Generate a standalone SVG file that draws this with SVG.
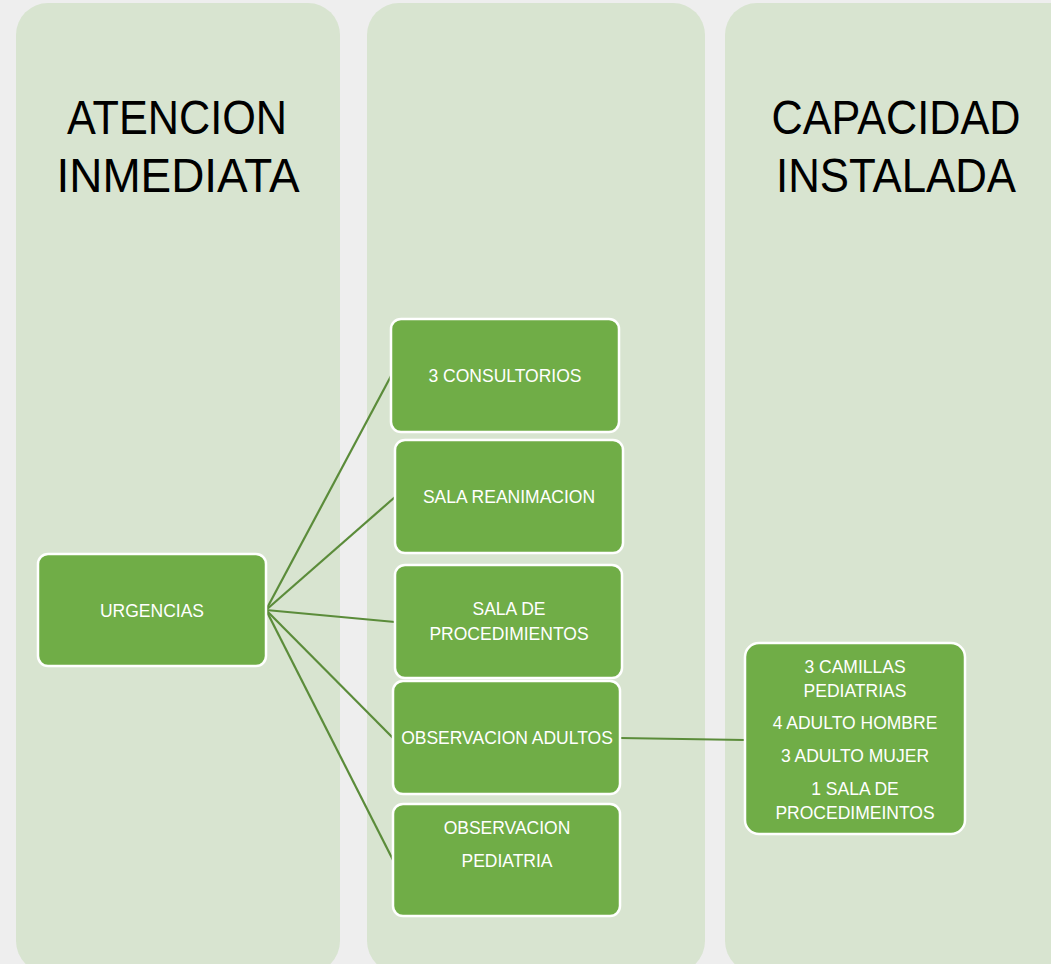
<svg xmlns="http://www.w3.org/2000/svg" width="1051" height="964" viewBox="0 0 1051 964">
<style>
.col{fill:#d8e4d0;}
.title{font-family:"Liberation Sans",Arial,sans-serif;font-size:48px;fill:#000;text-anchor:middle;}
.node rect{fill:#70ad47;stroke:#fff;stroke-width:2.5;}
.node text{font-family:"Liberation Sans",Arial,sans-serif;font-size:17.5px;fill:#fff;text-anchor:middle;}
.conn line{stroke:#5b8c3a;stroke-width:2.2;}
</style>
<rect x="0" y="0" width="1051" height="964" fill="#eeeeee"/>
<g id="columns">
<rect class="col" x="16" y="3" width="324" height="970" rx="32"/>
<rect class="col" x="367" y="3" width="338" height="970" rx="32"/>
<rect class="col" x="725" y="3" width="360" height="970" rx="32"/>
</g>
<g id="titles">
<text class="title" x="177" y="134" textLength="220" lengthAdjust="spacingAndGlyphs">ATENCION</text>
<text class="title" x="178" y="192" textLength="243" lengthAdjust="spacingAndGlyphs">INMEDIATA</text>
<text class="title" x="896" y="134" textLength="249" lengthAdjust="spacingAndGlyphs">CAPACIDAD</text>
<text class="title" x="896" y="192" textLength="240" lengthAdjust="spacingAndGlyphs">INSTALADA</text>
</g>
<g id="connectors" class="conn">
<line x1="266" y1="610" x2="391" y2="376"/>
<line x1="266" y1="610" x2="395" y2="497"/>
<line x1="266" y1="610" x2="395" y2="622"/>
<line x1="266" y1="610" x2="393" y2="738"/>
<line x1="266" y1="610" x2="393" y2="860"/>
<line x1="620" y1="738" x2="745" y2="740"/>
</g>
<g id="urgencias" class="node">
<rect x="38" y="554" width="228" height="112" rx="10"/>
<text x="152" y="617">URGENCIAS</text>
</g>
<g id="consultorios" class="node">
<rect x="391" y="319" width="228" height="113" rx="10"/>
<text x="505" y="382">3 CONSULTORIOS</text>
</g>
<g id="reanimacion" class="node">
<rect x="395" y="440" width="228" height="113" rx="10"/>
<text x="509" y="503">SALA REANIMACION</text>
</g>
<g id="procedimientos" class="node">
<rect x="395" y="565" width="227" height="113" rx="10"/>
<text x="509" y="615">SALA DE</text>
<text x="509" y="640">PROCEDIMIENTOS</text>
</g>
<g id="obs-adultos" class="node">
<rect x="393" y="681" width="227" height="113" rx="10"/>
<text x="507" y="744">OBSERVACION ADULTOS</text>
</g>
<g id="obs-pediatria" class="node">
<rect x="393" y="804" width="227" height="112" rx="10"/>
<text x="507" y="834">OBSERVACION</text>
<text x="507" y="867">PEDIATRIA</text>
</g>
<g id="capacidad" class="node">
<rect x="745" y="643" width="220" height="191" rx="14"/>
<text x="855" y="673">3 CAMILLAS</text>
<text x="855" y="697">PEDIATRIAS</text>
<text x="855" y="729">4 ADULTO HOMBRE</text>
<text x="855" y="762">3 ADULTO MUJER</text>
<text x="855" y="795">1 SALA DE</text>
<text x="855" y="819">PROCEDIMEINTOS</text>
</g>
</svg>
